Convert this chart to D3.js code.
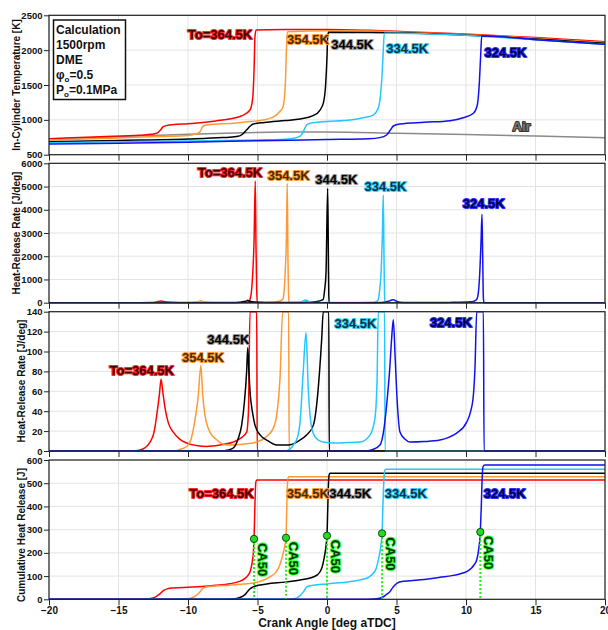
<!DOCTYPE html>
<html>
<head>
<meta charset="utf-8">
<title>DME calculation - temperature and heat release</title>
<style>
  body { margin: 0; background: #fff; }
  svg { display: block; font-family: "Liberation Sans", Arial, sans-serif; font-weight: bold; }
  .grid line { stroke: #e3e3e3; stroke-width: 1; }
  .frame { fill: none; stroke: #222; stroke-width: 1.2; }
  .axis text { font-size: 9.5px; font-weight: bold; fill: #111; }
  .axis line { stroke: #222; }
  .axis path { display: none; }
  .curve { fill: none; stroke-width: 1.5; stroke-linejoin: round; }
  .tag { font-size: 13px; font-weight: bold; paint-order: stroke; stroke-width: 2; stroke-linejoin: round; }
</style>
</head>
<body>
<div id="chart"></div>
<script src="https://d3js.org/d3.v7.min.js"></script>
<script>

// ---- data (crank angle [deg aTDC], value) ----
var caseNames = ["To=364.5K", "354.5K", "344.5K", "334.5K", "324.5K"];
var xTicks = [-20, -15, -10, -5, 0, 5, 10, 15, 20];

// in-cylinder temperature [K]
var airTemp = [[-20,721],[-15,758],[-10,792],[-6.7,812],[-3,824],[0,826],[5,808],[10,790],[15,768],[20,744]];
var tempRed = [[-20,730],[-16.3,758],[-13.5,778],[-12.7,792],[-12.25,807],[-12.0,850],[-11.78,902],[-11.5,920],[-11,932],[-10,945],[-9.14,959],[-8,985],[-6.74,1022],[-6.1,1060],[-5.54,1141],[-5.35,1300],[-5.25,1700],[-5.18,2200],[-5.1,2290],[-3,2296],[0,2298],[3,2285],[6,2262],[9,2240],[12,2210],[15,2180],[18,2145],[20,2121]];
var tempOrange = [[-20,711],[-15,740],[-12,762],[-10,776],[-9.4,800],[-9.14,830],[-8.9,912],[-8.5,930],[-7.5,943],[-6.74,950],[-5.5,975],[-4.34,1008],[-3.7,1060],[-3.35,1130],[-3.16,1189],[-3.0,1500],[-2.92,2000],[-2.85,2265],[0,2280],[3,2275],[6,2255],[9,2232],[12,2203],[15,2170],[18,2133],[20,2110]];
var tempBlack = [[-20,687],[-15,705],[-10,725],[-7.5,745],[-6.5,760],[-6.1,790],[-5.79,854],[-5.5,915],[-5.31,940],[-4.5,962],[-3,990],[-1.94,1012],[-1.0,1060],[-0.5,1141],[-0.25,1250],[-0.1,1500],[0,1900],[0.05,2200],[0.12,2256],[3,2255],[6,2245],[9,2225],[12,2195],[15,2160],[18,2122],[20,2098]];
var tempCyan = [[-20,672],[-15,685],[-10,697],[-5,712],[-3,722],[-2.3,740],[-1.9,770],[-1.71,830],[-1.47,926],[-1.2,950],[-0.98,959],[0,975],[1.66,998],[2.6,1030],[3.33,1069],[3.65,1150],[3.81,1284],[3.95,1600],[4.05,2000],[4.12,2241],[6,2240],[9,2220],[12,2188],[15,2150],[18,2110],[20,2084]];
var tempBlue = [[-20,654],[-15,665],[-10,680],[-5,700],[0,718],[3,730],[3.8,745],[4.29,783],[4.55,850],[4.77,912],[5.25,940],[7,965],[8.85,988],[9.8,1030],[10.53,1094],[10.8,1200],[10.95,1500],[11.05,1900],[11.13,2203],[12,2198],[15,2150],[18,2108],[20,2084]];

// heat-release rate [J/deg]
var hrrRed = [[-20,0],[-14,0],[-13.45,1],[-12.73,9],[-12.4,22],[-12.25,36],[-12.05,58],[-11.94,72],[-11.8,58],[-11.65,43],[-11.41,28],[-11.06,19],[-10.6,12],[-10.1,8],[-9.4,5.5],[-8.65,4.5],[-7.7,6],[-6.74,9],[-6.2,13],[-5.78,19],[-5.65,40],[-5.54,140],[-5.45,400],[-5.34,1300],[-5.25,2600],[-5.16,5240],[-5.11,2500],[-5.06,600],[-5.02,0],[20,0]];
var hrrOrange = [[-20,0],[-11,0],[-10.6,1.5],[-10.1,4.5],[-9.8,11],[-9.6,23],[-9.4,40],[-9.26,56],[-9.07,86],[-8.95,58],[-8.78,36],[-8.42,19],[-8.0,12],[-7.22,6],[-6.3,6.5],[-5.06,9],[-4.4,14],[-3.86,23],[-3.6,38],[-3.38,73],[-3.19,140],[-3.1,400],[-3.0,1400],[-2.92,2800],[-2.86,5140],[-2.81,2000],[-2.76,300],[-2.72,0],[20,0]];
var hrrBlack = [[-20,0],[-7.6,0],[-7.1,1],[-6.74,3],[-6.4,12],[-6.14,26],[-5.95,48],[-5.78,80],[-5.7,104],[-5.62,80],[-5.54,60],[-5.35,38],[-5.18,26],[-4.8,16],[-4.34,11],[-3.6,6],[-2.8,6],[-1.94,11],[-1.47,16],[-0.98,26],[-0.63,63],[-0.38,113],[-0.27,140],[-0.18,500],[-0.07,1300],[0.05,4925],[0.1,2000],[0.13,300],[0.16,0],[20,0]];
var hrrCyan = [[-20,0],[-3.2,0],[-2.9,0.3],[-2.42,6],[-2.1,15],[-1.94,29],[-1.71,80],[-1.51,119],[-1.35,63],[-1.11,24],[-0.8,13],[-0.3,9],[0.5,8],[1.5,8.5],[2.37,9],[3.09,16],[3.45,33],[3.6,70],[3.69,140],[3.78,500],[3.9,1400],[3.98,2800],[4.05,4636],[4.1,2000],[4.14,300],[4.18,0],[20,0]];
var hrrBlue = [[-20,0],[2.8,0],[3.3,1.5],[3.81,6],[4.05,18],[4.29,46],[4.5,80],[4.65,113],[4.77,132],[4.9,95],[5.05,50],[5.25,19],[5.6,12],[5.97,9],[7,9.5],[8.13,11],[8.8,14],[9.33,18],[10.05,29],[10.3,38],[10.53,56],[10.65,85],[10.77,140],[10.9,500],[11.0,1400],[11.08,2600],[11.15,3805],[11.2,2000],[11.25,200],[11.3,0],[20,0]];

// cumulative heat release [J]
var cumRed = [[-20,0],[-13.5,0],[-12.8,2],[-12.4,8],[-12.1,20],[-11.94,28],[-11.75,38],[-11.5,45],[-11,49],[-10,52],[-9,55],[-8,60],[-7,67],[-6.3,77],[-5.9,90],[-5.66,105],[-5.5,125],[-5.38,160],[-5.3,200],[-5.25,260],[-5.18,420],[-5.12,505],[-5.05,514],[20,514]];
var cumOrange = [[-20,0],[-10.5,0],[-10,2],[-9.6,10],[-9.3,22],[-9.1,35],[-8.9,48],[-8.6,54],[-8,57],[-7,61],[-6,66],[-5,74],[-4.1,97],[-3.7,115],[-3.38,150],[-3.15,200],[-2.98,250],[-2.95,265],[-2.9,380],[-2.85,490],[-2.78,528],[20,528]];
var cumBlack = [[-20,0],[-7.5,0],[-7,1],[-6.5,4],[-6.1,12],[-5.9,20],[-5.7,35],[-5.5,47],[-5.2,56],[-4.34,66],[-3,74],[-1.94,83],[-1.2,92],[-0.7,105],[-0.4,130],[-0.2,180],[-0.05,240],[0,274],[0.05,380],[0.1,490],[0.15,535],[0.22,543],[20,543]];
var cumCyan = [[-20,0],[-3.2,0],[-2.6,1],[-2.2,5],[-1.94,16],[-1.7,32],[-1.47,52],[-1.2,58],[-0.8,62],[0,66],[0.46,69],[1.5,75],[2.37,83],[3.0,95],[3.33,112],[3.55,135],[3.69,169],[3.85,220],[3.96,284],[4.02,400],[4.08,500],[4.15,555],[4.25,560],[20,560]];
var cumBlue = [[-20,0],[3.0,0],[3.6,2],[4.05,11],[4.3,22],[4.53,33],[4.7,48],[4.89,62],[5.05,70],[5.3,76],[6,80],[7,85],[8.13,95],[9,102],[9.6,110],[10.05,119],[10.4,135],[10.6,150],[10.77,169],[10.9,210],[11.03,290],[11.1,400],[11.15,500],[11.22,570],[11.35,578],[20,578]];

// CA50 points
var ca50Angle = [-5.25, -2.95, 0.0, 3.96, 11.03];
var ca50Heat = [260, 265, 274, 284, 290];

// ---- styling ----
var lineColors = ["#ff0000", "#ff9933", "#000000", "#22c8ff", "#1010f0"];
var tagFill = ["#4a0000", "#4a2a00", "#000000", "#0d3340", "#000050"];
var tagGlow = ["#ff2a2a", "#ff9933", "#999999", "#33ccff", "#3030ff"];

var width = 608, height = 630;
var x = d3.scaleLinear().domain([-20, 20]).range([49, 605]);

var panels = [
  { top: 15.3, bottom: 154.7, domain: [500, 2500], step: 500, title: "In-Cylinder Temperature [K]", titleX: 20, titleY: 85,
    series: [tempRed, tempOrange, tempBlack, tempCyan, tempBlue],
    tags: [[-7.7, 2153], [-1.37, 2088], [1.81, 2016], [5.77, 1966], [12.84, 1902]] },
  { top: 163.3, bottom: 302.7, domain: [0, 6000], step: 1000, title: "Heat-Release Rate [J/deg]", titleX: 20, titleY: 233,
    series: [hrrRed, hrrOrange, hrrBlack, hrrCyan, hrrBlue],
    tags: [[-6.98, 5390], [-2.76, 5282], [0.67, 5110], [4.21, 4787], [11.27, 4077]] },
  { top: 311.7, bottom: 451, domain: [0, 140], step: 20, title: "Heat-Release Rate [J/deg]", titleX: 25, titleY: 381,
    series: [hrrRed, hrrOrange, hrrBlack, hrrCyan, hrrBlue],
    tags: [[-13.33, 76.4], [-8.92, 89.4], [-7.1, 107.5], [2.05, 124.1], [8.91, 125.1]] },
  { top: 460, bottom: 599.3, domain: [0, 600], step: 100, title: "Cumulative Heat Release [J]", titleX: 25, titleY: 535,
    series: [cumRed, cumOrange, cumBlack, cumCyan, cumBlue],
    tags: [[-7.59, 436], [-1.38, 436], [1.67, 436], [5.67, 436], [12.78, 436]] }
];

var svg = d3.select("#chart").append("svg")
    .attr("width", width)
    .attr("height", height);

panels.forEach(function (p, i) {
  var y = d3.scaleLinear().domain(p.domain).range([p.bottom, p.top]).clamp(true);
  var yTicks = d3.range(p.domain[0], p.domain[1] + 1, p.step);
  var g = svg.append("g").attr("class", "panel");

  // grid
  var grid = g.append("g").attr("class", "grid");
  grid.selectAll("line.v").data(xTicks).enter().append("line")
      .attr("x1", function (d) { return x(d); }).attr("x2", function (d) { return x(d); })
      .attr("y1", p.top).attr("y2", p.bottom);
  grid.selectAll("line.h").data(yTicks).enter().append("line")
      .attr("x1", x(-20)).attr("x2", x(20))
      .attr("y1", function (d) { return y(d); }).attr("y2", function (d) { return y(d); });

  g.append("clipPath").attr("id", "clip" + i)
    .append("rect").attr("x", x(-20)).attr("y", p.top - 1)
    .attr("width", x(20) - x(-20)).attr("height", p.bottom - p.top + 2);

  var line = d3.line()
      .x(function (d) { return x(d[0]); })
      .y(function (d) { return y(d[1]); })
      .curve(d3.curveMonotoneX);

  var curves = g.append("g").attr("clip-path", "url(#clip" + i + ")");
  if (i === 0) {
    curves.append("path").datum(airTemp).attr("class", "curve")
        .attr("stroke", "#8a8a8a").attr("stroke-width", 1).attr("d", line);
  }
  curves.selectAll("path.case").data(p.series).enter().append("path")
      .attr("class", "curve case")
      .attr("stroke", function (d, k) { return lineColors[k]; })
      .attr("d", line);

  // CA50 markers
  if (i === 3) {
    var ca = g.append("g");
    ca50Angle.forEach(function (a, k) {
      ca.append("line")
        .attr("x1", x(a)).attr("x2", x(a))
        .attr("y1", y(ca50Heat[k])).attr("y2", y(0))
        .attr("stroke", "#22ee22").attr("stroke-width", 2)
        .attr("stroke-dasharray", "2,2");
      ca.append("circle")
        .attr("cx", x(a)).attr("cy", y(ca50Heat[k])).attr("r", 3.6)
        .attr("fill", "#22dd22").attr("stroke", "#0a4a0a").attr("stroke-width", 1);
      ca.append("text")
        .attr("class", "tag")
        .attr("transform", "translate(" + (x(a) + 3.5) + "," + (y(ca50Heat[k]) + 4) + ") rotate(90)")
        .attr("font-size", "12px")
        .attr("fill", "#003800").attr("stroke", "#33ff33")
        .text("CA50");
    });
  }

  // case labels
  g.selectAll("text.case").data(p.tags).enter().append("text")
      .attr("class", "tag")
      .attr("text-anchor", "middle")
      .attr("x", function (d) { return x(d[0]); })
      .attr("y", function (d) { return y(d[1]); })
      .attr("fill", function (d, k) { return tagFill[k]; })
      .attr("stroke", function (d, k) { return tagGlow[k]; })
      .text(function (d, k) { return caseNames[k]; });

  if (i === 0) {
    g.append("text").attr("class", "tag")
      .attr("text-anchor", "middle")
      .attr("x", x(14)).attr("y", y(840))
      .attr("font-size", "15px")
      .attr("fill", "#777").attr("stroke", "#333").attr("stroke-width", 1)
      .text("Air");

    // legend box
    var lg = g.append("g");
    lg.append("rect").attr("x", 53.5).attr("y", 20).attr("width", 72).attr("height", 79.5)
      .attr("fill", "#fff").attr("stroke", "#111").attr("stroke-width", 1.5);
    var lt = lg.append("text").attr("font-size", "12px").attr("fill", "#111");
    lt.append("tspan").attr("x", 56).attr("y", 33.5).text("Calculation");
    lt.append("tspan").attr("x", 56).attr("y", 48.5).text("1500rpm");
    lt.append("tspan").attr("x", 56).attr("y", 63.5).text("DME");
    var phi = lg.append("text").attr("font-size", "12px").attr("fill", "#111").attr("x", 56).attr("y", 79);
    phi.append("tspan").text("\u03c6");
    phi.append("tspan").attr("font-size", "8px").attr("dy", 3).text("o");
    phi.append("tspan").attr("dy", -3).text("=0.5");
    var po = lg.append("text").attr("font-size", "12px").attr("fill", "#111").attr("x", 56).attr("y", 94);
    po.append("tspan").text("P");
    po.append("tspan").attr("font-size", "8px").attr("dy", 3).text("o");
    po.append("tspan").attr("dy", -3).text("=0.1MPa");
  }

  // frame and axes
  g.append("rect").attr("class", "frame")
    .attr("x", x(-20)).attr("y", p.top)
    .attr("width", x(20) - x(-20)).attr("height", p.bottom - p.top);

  g.append("g").attr("class", "axis")
    .attr("transform", "translate(" + x(-20) + ",0)")
    .call(d3.axisLeft(y).tickValues(yTicks).tickFormat(d3.format("d")).tickSize(5).tickPadding(1.5));

  var xa = d3.axisBottom(x).tickValues(xTicks).tickSize(6).tickPadding(1.5).tickFormat(d3.format("d"));
  if (i < 3) xa.tickFormat("");
  var xg = g.append("g").attr("class", "axis")
    .attr("transform", "translate(0," + p.bottom + ")")
    .call(xa);
  xg.selectAll("text").style("font-size", "10px");

  g.append("text")
    .attr("transform", "translate(" + p.titleX + "," + p.titleY + ") rotate(-90)")
    .attr("text-anchor", "middle")
    .attr("font-size", "10px")
    .attr("fill", "#111")
    .text(p.title);
});

svg.append("text")
  .attr("x", x(0)).attr("y", 627)
  .attr("text-anchor", "middle")
  .attr("font-size", "12px")
  .attr("fill", "#111")
  .text("Crank Angle [deg aTDC]");

</script>
</body>
</html>
